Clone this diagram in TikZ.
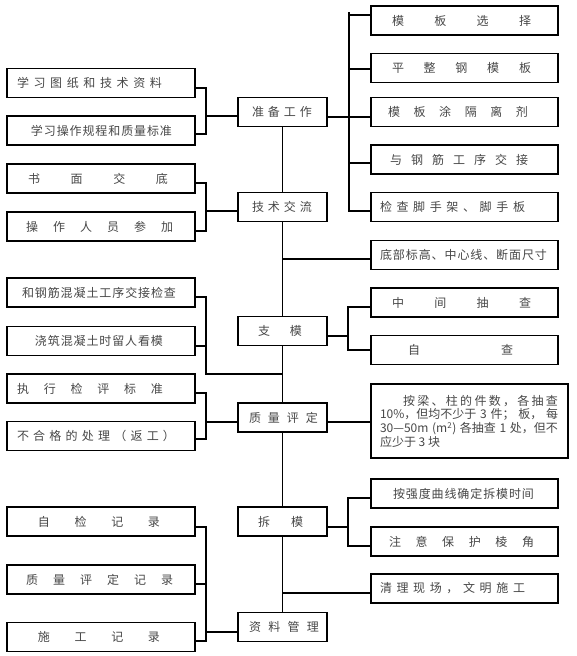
\documentclass[tikz,border=0pt]{standalone}
\usepackage{fontspec}
\newfontfamily\cjk{Noto Sans CJK SC}
\def\sprdEnd{}
\def\sprd#1{\sprdA#1\sprdEnd}
\def\sprdA#1{\ifx#1\sprdEnd\else#1\expandafter\sprdB\fi}
\def\sprdB#1{\ifx#1\sprdEnd\else\hfill#1\expandafter\sprdB\fi}
\newcommand\bt[4]{\makebox[#1pt][l]{\hspace*{#2pt}\makebox[#3pt][s]{\sprd{#4}}}}
\begin{document}
\begin{tikzpicture}[x=1pt,y=-1pt,
  base/.style={draw, line width=1.8pt, fill=white, inner sep=0pt, minimum height=29pt,
    font=\cjk\fontsize{12pt}{13.7pt}\selectfont, text=black!72},
  conn/.style={line width=1.6pt}]
\useasboundingbox[fill=white] (0,0) rectangle (576,656);
% left column
\node[base] (L1) at (101,83) {\bt{188}{10}{145}{学习图纸和技术资料}};
\node[base] (L2) at (101,130.5) {\bt{188}{24}{141}{学习操作规程和质量标准}};
\node[base] (L3) at (101,178.5) {\bt{188}{21}{140}{书面交底}};
\node[base] (L4) at (101,226.5) {\bt{188}{19}{147}{操作人员参加}};
\node[base] (L5) at (101,292.5) {\bt{188}{15}{154}{和钢筋混凝土工序交接检查}};
\node[base] (L6) at (101,341) {\bt{188}{28}{128}{浇筑混凝土时留人看模}};
\node[base] (L7) at (101,388.5) {\bt{188}{10}{146}{执行检评标准}};
\node[base] (L8) at (101,436) {\bt{188}{10}{158}{不合格的处理（返工）}};
\node[base] (L9) at (101,521.5) {\bt{188}{31}{122}{自检记录}};
\node[base] (L10) at (101,579.5) {\bt{188}{19}{147}{质量评定记录}};
\node[base] (L11) at (101,637) {\bt{188}{31}{122}{施工记录}};
% centre column
\node[base] (C1) at (282.5,112) {\bt{89}{14}{60}{准备工作}};
\node[base] (C2) at (282.5,207) {\bt{89}{14}{60}{技术交流}};
\node[base] (C3) at (282.5,331) {\bt{89}{20}{44}{支模}};
\node[base] (C4) at (282.5,417.5) {\bt{89}{11}{69}{质量评定}};
\node[base] (C5) at (282.5,521.5) {\bt{89}{20}{45}{拆模}};
\node[base] (C6) at (282.5,627) {\bt{89}{11}{70}{资料管理}};
% right column
\node[base] (R1) at (464.5,20.5) {\bt{187}{21}{139}{模板选择}};
\node[base] (R2) at (464.5,68) {\bt{187}{21}{139}{平整钢模板}};
\node[base] (R3) at (464.5,112) {\bt{187}{17}{140}{模板涂隔离剂}};
\node[base] (R4) at (464.5,159.5) {\bt{187}{19}{138}{与钢筋工序交接}};
\node[base] (R5) at (464.5,207) {\bt{187}{9}{145}{检查脚手架、脚手板}};
\node[base] (R6) at (464.5,255) {\bt{187}{9}{167}{底部标高、中心线、断面尺寸}};
\node[base] (R7) at (464.5,302.5) {\bt{187}{21}{139}{中间抽查}};
\node[base] (R8) at (464.5,350) {\bt{187}{37}{105}{自查}};
\node[base, minimum width=197pt, minimum height=74pt, align=left] (R9) at (469.5,421) {%
  \makebox[197pt][l]{\hspace*{32pt}\makebox[155pt][s]{\sprd{按梁、柱的件数，各抽查}}}\\
  \makebox[197pt][l]{\hspace*{9pt}\makebox[178pt][s]{10\%，但均不少于\hfill 3\hfill 件；\hfill 板，\hfill 每}}\\
  \makebox[197pt][l]{\hspace*{9pt}\makebox[178pt][s]{30—50m\hfill(m\textsuperscript{2})\hfill 各抽查\hfill 1\hfill 处，但不}}\\
  \makebox[197pt][l]{\hspace*{9pt}应少于 3 块}};
\node[base] (R10) at (464.5,493.5) {\bt{187}{22}{141}{按强度曲线确定拆模时间}};
\node[base] (R11) at (464.5,541.5) {\bt{187}{18}{145}{注意保护棱角}};
\node[base] (R12) at (464.5,588.5) {\bt{187}{9}{145}{清理现场，文明施工}};
% junctions
\coordinate (jA) at (206,116);
\coordinate (jB) at (206,211);
\coordinate (jC) at (206,374);
\coordinate (jD) at (206,422);
\coordinate (jE) at (206,632);
\coordinate (kTop) at (349,12);
\coordinate (kBot) at (349,211);
\coordinate (jF) at (348,336);
\coordinate (jG) at (348,527);
% spine
\draw[conn] (C1.south) -- (C2.north) (C2.south) -- (C3.north) (C3.south) -- (C4.north)
  (C4.south) -- (C5.north) (C5.south) -- (C6.north);
% left brackets
\draw[conn] ([yshift=-5pt]L1.east) -| (jA) |- ([yshift=-3.5pt]L2.east);
\draw[conn] (jA) -- ([yshift=-4pt]C1.west);
\draw[conn] ([yshift=-4.5pt]L3.east) -| (jB) |- ([yshift=-4.5pt]L4.east);
\draw[conn] (jB) -- ([yshift=-4pt]C2.west);
\draw[conn] ([yshift=-4.5pt]L5.east) -| (jC) -- (C3.south |- jC);
\draw[conn] ([yshift=-5pt]L6.east) -- ++(11,0);
\draw[conn] ([yshift=-4.5pt]L7.east) -| (jD) |- ([yshift=-3pt]L8.east);
\draw[conn] (jD) -- ([yshift=-4.5pt]C4.west);
\draw[conn] ([yshift=-5.5pt]L9.east) -| (jE) |- ([yshift=-4pt]L11.east);
\draw[conn] ([yshift=-4.5pt]L10.east) -- ++(11,0);
\draw[conn] (jE) -- ([yshift=-5pt]C6.west);
% right brackets
\draw[conn] (kTop) -- (kBot) -- ([yshift=-4pt]R5.west);
\draw[conn] ([yshift=5.5pt]R1.west) -- ++(-22,0);
\draw[conn] ([yshift=-1pt]R2.west) -- ++(-22,0);
\draw[conn] ([yshift=-5pt]C1.east) -- ([yshift=-5pt]R3.west);
\draw[conn] ([yshift=-3.5pt]R4.west) -- ++(-22,0);
\draw[conn] ([yshift=-4pt]R6.west) -- ++(-88.5,0);
\draw[conn] ([yshift=-4.5pt]R7.west) -| (jF) |- (R8.west);
\draw[conn] ([yshift=-5pt]C3.east) -- (jF);
\draw[conn] ([yshift=-4.5pt]C4.east) -- ++(44,0);
\draw[conn] ([yshift=-4.5pt]R10.west) -| (jG) |- ([yshift=-4.5pt]R11.west);
\draw[conn] ([yshift=-5.5pt]C5.east) -- (jG);
\draw[conn] ([yshift=-4.5pt]R12.west) -- ++(-88.5,0);
\end{tikzpicture}
\end{document}
